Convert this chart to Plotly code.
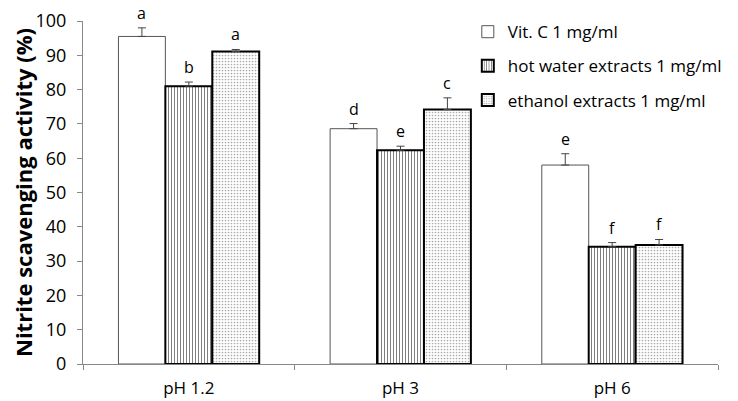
import plotly.graph_objects as go

categories = ["pH 1.2", "pH 3", "pH 6"]
series_names = ["Vit. C 1 mg/ml", "hot water extracts 1 mg/ml", "ethanol extracts 1 mg/ml"]
vitc = [95.5, 68.6, 58.0]
vitc_err = [2.5, 1.5, 3.3]
hot = [81.0, 62.3, 34.2]
hot_err = [1.2, 1.2, 1.2]
eth = [91.1, 74.2, 34.7]
eth_err = [0.6, 3.4, 1.6]
letters = [["a", "d", "e"], ["b", "e", "f"], ["a", "c", "f"]]

font = "Open Sans, sans-serif"
bargap = 0.335

fig = go.Figure()
styles = [
    dict(color="white", line=dict(color="#555555", width=1)),
    dict(color="white", line=dict(color="black", width=2),
         pattern=dict(shape="|", size=3, solidity=0.35, fgcolor="black", bgcolor="white")),
    dict(color="white", line=dict(color="black", width=2),
         pattern=dict(shape=".", size=3, solidity=0.25, fgcolor="#555555", bgcolor="white")),
]
vals = [vitc, hot, eth]
errs = [vitc_err, hot_err, eth_err]
for i in range(3):
    fig.add_trace(go.Bar(
        x=categories, y=vals[i], name=series_names[i], marker=styles[i],
        legendgroup=str(i),
        error_y=dict(type="data", array=errs[i], arrayminus=[0] * 3, symmetric=False,
                     color="#444444", thickness=1, width=4),
    ))

barw = (1 - bargap) / 3
for i in range(3):
    for j in range(3):
        fig.add_annotation(
            x=j + (i - 1) * barw, y=vals[i][j] + errs[i][j], xref="x", yref="y",
            text=letters[i][j], showarrow=False, yanchor="bottom", yshift=3,
            font=dict(size=16, color="black", family=font), borderpad=0,
        )

# page body has an 8px default margin, so the figure is sized to fit the window
fig.update_layout(
    width=730, height=393,
    margin=dict(l=75, r=20, t=13, b=37, autoexpand=False),
    paper_bgcolor="white", plot_bgcolor="white",
    barmode="group", bargap=bargap, bargroupgap=0,
    font=dict(family=font, color="black", size=17),
    legend=dict(x=0.606, y=1.02, xanchor="left", yanchor="top",
                font=dict(size=17, family=font), tracegroupgap=9,
                itemwidth=30, bgcolor="rgba(0,0,0,0)"),
    showlegend=True,
)
fig.update_xaxes(
    type="category", showline=True, linecolor="#888888", linewidth=1,
    ticks="outside", tickson="boundaries", ticklen=5, tickcolor="#888888",
    showgrid=False, tickfont=dict(size=17, family=font), automargin=False,
    ticklabelstandoff=9,
)
fig.update_yaxes(
    range=[0, 100], dtick=10, showline=True, linecolor="#888888", linewidth=1,
    ticks="outside", ticklen=5, tickcolor="#888888", showgrid=False, zeroline=False,
    tickfont=dict(size=18, family=font), automargin=False, ticklabelstandoff=7,
    title=dict(text="<b>Nitrite scavenging activity (%)</b>", font=dict(size=22, family=font), standoff=6),
)

fig.write_html("out.html")
